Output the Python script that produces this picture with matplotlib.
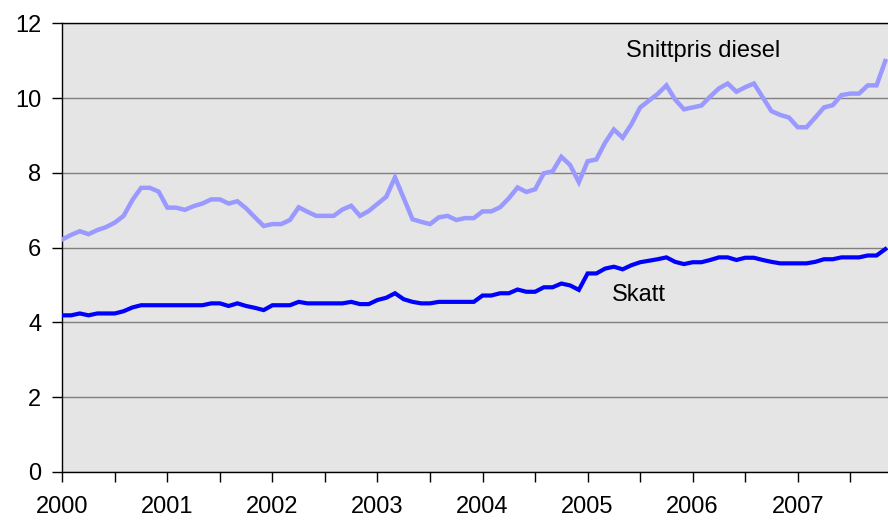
import matplotlib.pyplot as plt
import numpy as np

plt.rcParams['font.family'] = ['Liberation Sans', 'DejaVu Sans']

# monthly values, Jan 2000 - Nov 2007
diesel = [6.22, 6.34, 6.44, 6.36, 6.47, 6.55, 6.67, 6.85, 7.27, 7.60, 7.60, 7.50,
          7.07, 7.07, 7.01, 7.11, 7.18, 7.29, 7.29, 7.18, 7.24, 7.05, 6.81, 6.58,
          6.63, 6.63, 6.74, 7.08, 6.96, 6.85, 6.85, 6.85, 7.02, 7.12, 6.85, 6.98,
          7.17, 7.36, 7.88, 7.32, 6.76, 6.69, 6.63, 6.81, 6.85, 6.74, 6.79, 6.79,
          6.97, 6.97, 7.08, 7.32, 7.61, 7.49, 7.56, 7.99, 8.04, 8.43, 8.21, 7.75,
          8.31, 8.36, 8.81, 9.16, 8.94, 9.30, 9.75, 9.93, 10.11, 10.34, 9.96, 9.70,
          9.75, 9.80, 10.04, 10.26, 10.39, 10.17, 10.29, 10.39, 10.02, 9.65, 9.55, 9.48,
          9.22, 9.22, 9.48, 9.75, 9.81, 10.08, 10.12, 10.12, 10.34, 10.34, 10.99]
skatt = [4.19, 4.19, 4.24, 4.19, 4.24, 4.24, 4.24, 4.30, 4.40, 4.46, 4.46, 4.46,
         4.46, 4.46, 4.46, 4.46, 4.46, 4.51, 4.51, 4.44, 4.51, 4.44, 4.39, 4.33,
         4.46, 4.46, 4.46, 4.55, 4.51, 4.51, 4.51, 4.51, 4.51, 4.55, 4.49, 4.49,
         4.60, 4.66, 4.78, 4.62, 4.55, 4.51, 4.51, 4.55, 4.55, 4.55, 4.55, 4.55,
         4.72, 4.72, 4.78, 4.78, 4.88, 4.82, 4.82, 4.94, 4.94, 5.04, 4.99, 4.87,
         5.31, 5.31, 5.44, 5.49, 5.42, 5.53, 5.61, 5.65, 5.69, 5.74, 5.62, 5.56,
         5.61, 5.61, 5.67, 5.74, 5.74, 5.67, 5.73, 5.73, 5.67, 5.62, 5.58, 5.58,
         5.58, 5.58, 5.62, 5.69, 5.69, 5.74, 5.74, 5.74, 5.79, 5.79, 5.96]
years = [str(y) for y in range(2000, 2008)]

months = np.arange(len(diesel))

fig = plt.figure(figsize=(8.88, 5.2), dpi=100)
ax = fig.add_axes([62.3 / 888, 48 / 520, 1 - 62.3 / 888, (472 - 23.3) / 520])
ax.set_facecolor('#e5e5e5')

ax.plot(months, diesel, color='#9999ff', lw=3.2, solid_joinstyle='miter', zorder=3)
ax.plot(months, skatt, color='#0000ff', lw=3.0, solid_joinstyle='miter', zorder=3)

ax.text(64.4, 11.25, 'Snittpris diesel', fontsize=17, va='center', ha='left')
ax.text(62.8, 4.73, 'Skatt', fontsize=17, va='center', ha='left')

ax.set_xlim(0, 94.31)
ax.set_ylim(0, 12)
ax.set_yticks(range(0, 13, 2))
ax.yaxis.grid(True, color='#808080', lw=1)
ax.set_axisbelow(True)

xt = list(range(0, 94, 6))
ax.set_xticks(xt)
ax.set_xticklabels([years[t // 12] if t % 12 == 0 else '' for t in xt])

ax.tick_params(axis='both', labelsize=17, length=7, width=1, color='black')
ax.tick_params(axis='x', pad=10)
ax.tick_params(axis='y', pad=8)

for side in ['left', 'bottom', 'top']:
    ax.spines[side].set_color('black')
    ax.spines[side].set_linewidth(1)
ax.spines['right'].set_visible(False)

fig.savefig('out.png', dpi=100)
